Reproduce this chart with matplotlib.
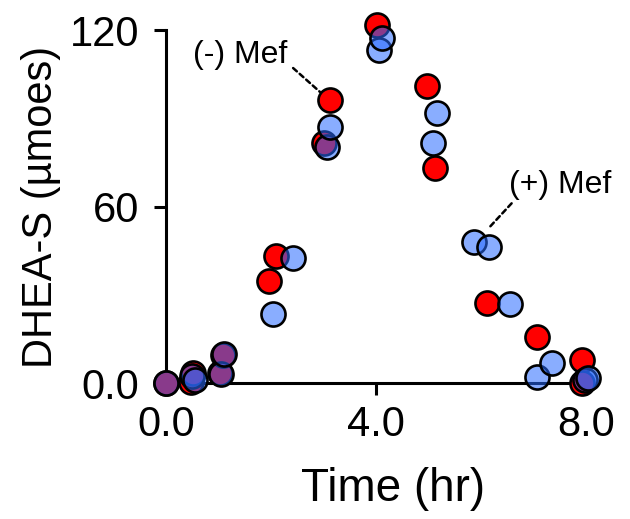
import numpy as np
import matplotlib.pyplot as plt

plt.rcParams['font.family'] = ['Liberation Sans', 'DejaVu Sans']

# (-) Mef : red
t_minus = [0, 0.48, 0.52, 1.03, 1.08, 1.97, 2.1, 3.0, 3.12, 4.01, 4.97, 5.12, 6.11, 7.06, 7.92, 7.92]
y_minus = [0, 0.5, 3.5, 3.5, 9.5, 34.8, 43.2, 81.5, 96.3, 121.8, 100.9, 73.0, 27.1, 15.7, 7.8, 0]

# (+) Mef : blue (semi-transparent)
t_plus = [0, 0.5, 0.55, 1.05, 1.1, 2.03, 2.42, 3.06, 3.12, 4.05, 4.11, 5.08, 5.16, 5.87, 6.14, 6.54, 7.06, 7.35, 7.98, 8.04]
y_plus = [0, 2.5, 1.0, 3.0, 10, 23.5, 42.4, 80.4, 87.2, 113.3, 117.2, 81.5, 91.7, 47.9, 46.4, 26.8, 2.1, 6.9, 1.0, 1.7]

xticks = [0, 4, 8]
xtick_labels = ['0.0', '4.0', '8.0']
yticks = [0, 60, 120]
ytick_labels = ['0.0', '60', '120']

fig = plt.figure(figsize=(6.3, 5.19), dpi=100)
ax = fig.add_axes([0.2635, 0.262, 0.667, 0.68])

ax.scatter(t_minus, y_minus, s=300, facecolor=(1, 0, 0, 1), edgecolor='black',
           linewidth=1.9, clip_on=False, zorder=3)
ax.scatter(t_plus, y_plus, s=300, facecolor=(0.16, 0.42, 1.0, 0.55), edgecolor='black',
           linewidth=1.9, clip_on=False, zorder=4)

ax.set_xlim(0, 8)
ax.set_ylim(0, 120)
ax.set_xticks(xticks)
ax.set_xticklabels(xtick_labels)
ax.set_yticks(yticks)
ax.set_yticklabels(ytick_labels)

for side in ['top', 'right']:
    ax.spines[side].set_visible(False)
for side in ['left', 'bottom']:
    ax.spines[side].set_linewidth(2.2)
ax.tick_params(width=2.2, length=8.5, labelsize=30)
ax.tick_params(axis='x', pad=7)
ax.tick_params(axis='y', pad=11)

ax.set_xlabel('Time (hr)', fontsize=33, labelpad=16, x=0.54)
ax.set_ylabel('DHEA-S (\u00b5moes)', fontsize=30, labelpad=6)

# dashed leader lines and labels
dash = dict(arrowstyle='-', linestyle=(0, (2, 1.5)), lw=1.8, color='black',
            shrinkA=0, shrinkB=0)
ax.annotate('', xy=(2.93, 99), xytext=(2.42, 107.1), arrowprops=dash)
ax.text(2.32, 111.6, '(-) Mef', fontsize=23, ha='right', va='center')
ax.annotate('', xy=(6.16, 53), xytext=(6.58, 61.1), arrowprops=dash)
ax.text(6.53, 67.3, '(+) Mef', fontsize=23, ha='left', va='center')

fig.savefig('out.png', dpi=100)
